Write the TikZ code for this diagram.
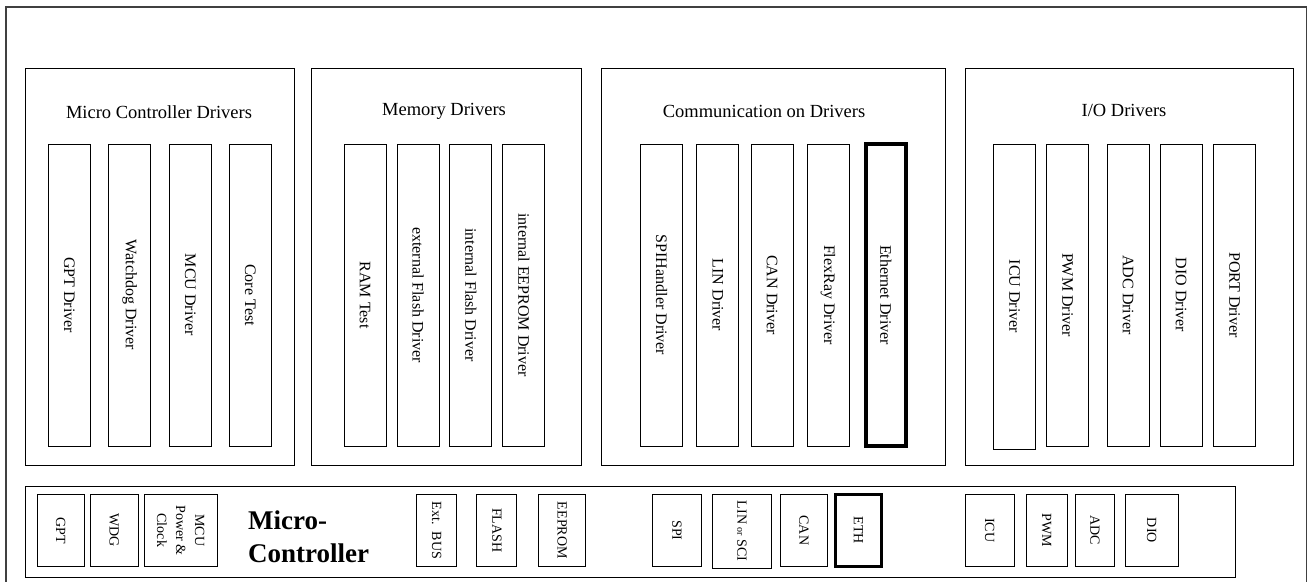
\documentclass[tikz,border=0pt]{standalone}
\usepackage{fontspec}
\setmainfont{Liberation Serif}

\tikzset{
  grpbox/.style={draw, line width=1pt, minimum height=397, inner sep=0pt},
  grptitle/.style={inner sep=0pt, font=\fontsize{18.5}{22}\selectfont},
  drvbox/.style={draw, line width=1pt, rotate=-90, minimum width=302,
    minimum height=42, inner sep=0pt, font=\fontsize{16}{18}\selectfont},
  hwbox/.style={draw, line width=1pt, rotate=-90, minimum width=72.7,
    inner sep=0pt, align=center, font=\fontsize{14}{19}\selectfont},
  heavy/.style={line width=3.5pt}
}

\begin{document}
\begin{tikzpicture}[x=1pt, y=-1pt]
\useasboundingbox (0,0) rectangle (1309,581);

% Outer frame (runs off the bottom edge)
\draw[line width=1.3pt, black!75] (6,7) rectangle (1306.5,600);

% The four driver groups
\node[grpbox, minimum width=269.3] (mcgrp)  at (160,266.5)    {};
\node[grpbox, minimum width=269.7] (memgrp) at (446.75,266.5) {};
\node[grpbox, minimum width=343.1] (comgrp) at (773.5,266.5)  {};
\node[grpbox, minimum width=328.3] (iogrp)  at (1129.5,266.5) {};

\node[grptitle] (mctitle)  at (159,112)  {Micro Controller Drivers};
\node[grptitle] (memtitle) at (444,111)  {Memory Drivers};
\node[grptitle] (comtitle) at (764,111)  {Communication on Drivers};
\node[grptitle] (iotitle)  at (1124,110) {I/O Drivers};

% Micro controller drivers
\node[drvbox] (gptdrv)  at (69.25,295)  {GPT Driver};
\node[drvbox] (wdgdrv)  at (129.65,295) {Watchdog Driver};
\node[drvbox] (mcudrv)  at (190.25,295) {MCU Driver};
\node[drvbox] (coretst) at (250.45,295) {Core Test};

% Memory drivers
\node[drvbox] (ramtst)  at (365.15,295) {RAM Test};
\node[drvbox] (extfls)  at (418.15,295) {external Flash Driver};
\node[drvbox] (intfls)  at (470.75,295) {internal Flash Driver};
\node[drvbox] (inteep)  at (523.8,295)  {internal EEPROM Driver};

% Communication drivers
\node[drvbox] (spidrv)  at (661.7,295)  {SPIHandler Driver};
\node[drvbox] (lindrv)  at (717.9,295)  {LIN Driver};
\node[drvbox] (candrv)  at (772.1,295)  {CAN Driver};
\node[drvbox] (frdrv)   at (828,295)    {FlexRay Driver};
\node[drvbox, heavy, minimum height=40] (ethdrv) at (885.85,295) {Ethernet Driver};

% I/O drivers
\node[drvbox, minimum width=305] (icudrv) at (1014.65,296.5) {ICU Driver};
\node[drvbox] (pwmdrv)  at (1067.6,295) {PWM Driver};
\node[drvbox] (adcdrv)  at (1128.15,295) {ADC Driver};
\node[drvbox] (diodrv)  at (1181.1,295) {DIO Driver};
\node[drvbox] (portdrv) at (1234.5,295) {PORT Driver};

% Micro-controller hardware row
\node[draw, line width=1pt, minimum width=1209.7, minimum height=91.3,
  inner sep=0pt] (mcu) at (630.15,531.65) {};
\node[inner sep=0pt, anchor=west, align=left,
  font=\fontsize{27}{33}\selectfont\bfseries] (mclabel) at (248,537) {Micro-\\Controller};

\node[hwbox, minimum height=47.2] (hwgpt) at (60.6,530.35)   {GPT};
\node[hwbox, minimum height=47.5] (hwwdg) at (114.25,530.35) {WDG};
\node[hwbox, minimum height=72.8] (hwclk) at (180.8,530.35)  {MCU\\Power \&\\Clock};
\node[hwbox, minimum height=40]   (hwbus) at (436.65,530.35) {Ext.\ \ BUS};
\node[hwbox, minimum height=40]   (hwfls) at (496.85,530.35) {FLASH};
\node[hwbox, minimum height=47.2] (hweep) at (562.3,530.35)  {EEPROM};
\node[hwbox, minimum height=49.3] (hwspi) at (677,530.35)    {SPI};
\node[hwbox, minimum height=59.7, minimum width=74] (hwlin) at (742,531)
  {LIN {\fontsize{10}{10}\selectfont or} SCI};
\node[hwbox, minimum height=47.1] (hwcan) at (803.85,530.35) {CAN};
\node[hwbox, heavy, minimum height=46, minimum width=72] (hweth) at (858.5,530.35) {ETH};
\node[hwbox, minimum height=48.7] (hwicu) at (989.65,530.35) {ICU};
\node[hwbox, minimum height=40.8] (hwpwm) at (1046.6,530.35) {PWM};
\node[hwbox, minimum height=39.1] (hwadc) at (1094.95,530.35) {ADC};
\node[hwbox, minimum height=53.4] (hwdio) at (1151.7,530.35) {DIO};
\end{tikzpicture}
\end{document}
